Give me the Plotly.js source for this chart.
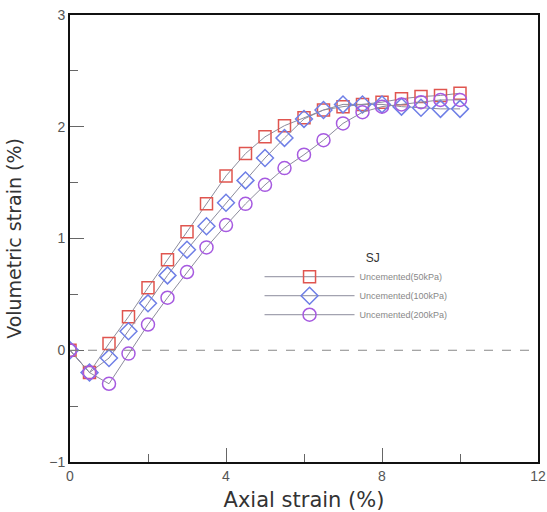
<!DOCTYPE html>
<html><head><meta charset="utf-8">
<script src="https://cdn.plot.ly/plotly-3.0.1.min.js"></script>
<style>body{margin:0;background:#fff}#c{width:547px;height:512px}</style>
</head><body><div id="c"></div>
<script>
var axialStrain = [0,0.5,1,1.5,2,2.5,3,3.5,4,4.5,5,5.5,6,6.5,7,7.5,8,8.5,9,9.5,10];
var vol50  = [0,-0.2,0.06,0.3,0.56,0.81,1.06,1.31,1.56,1.76,1.91,2.01,2.08,2.15,2.18,2.2,2.22,2.25,2.27,2.28,2.3];
var vol100 = [0,-0.2,-0.07,0.17,0.42,0.67,0.9,1.11,1.32,1.52,1.72,1.9,2.07,2.15,2.2,2.2,2.2,2.18,2.17,2.16,2.16];
var vol200 = [0,-0.2,-0.3,-0.03,0.23,0.47,0.7,0.92,1.12,1.31,1.48,1.63,1.75,1.88,2.03,2.13,2.18,2.2,2.22,2.24,2.24];
var seriesNames = ['Uncemented(50kPa)','Uncemented(100kPa)','Uncemented(200kPa)'];
var legendTitle = 'SJ';
var xRange = [0,12];
var yRange = [-1,3];

function tr(y, name, sym, col, size){
  return {x: axialStrain, y: y, name: name, type:'scatter', mode:'lines+markers',
    line:{color:'#8c8c9c', width:1},
    marker:{symbol:sym, size:size, color:col, line:{color:col, width:1.5}}};
}
var data = [
  tr(vol50, seriesNames[0], 'square-open', '#e0554f', 12),
  tr(vol100, seriesNames[1], 'diamond-open', '#6f7fe6', 13),
  tr(vol200, seriesNames[2], 'circle-open', '#a65ae0', 13)
];
var font = 'Liberation Sans, Arial';
var tfont = 'DejaVu Sans';
var zeroFrac = (0 - yRange[0]) / (yRange[1] - yRange[0]);

var layout = {
  width:547, height:512, margin:{l:70, r:9, t:15, b:50},
  paper_bgcolor:'#fff', plot_bgcolor:'#fff', showlegend:true,
  xaxis:{range:xRange, dtick:4, showline:true, linecolor:'#111', linewidth:2, mirror:true,
    ticks:'inside', ticklen:14, tickwidth:1, tickcolor:'#666',
    minor:{dtick:2, ticks:'inside', ticklen:8, tickcolor:'#666'},
    showgrid:false, zeroline:false,
    tickfont:{family:font, size:14, color:'#555'},
    title:{text:'Axial strain (%)', font:{family:tfont, size:21, color:'#333'}}},
  yaxis:{range:yRange, dtick:1, showline:true, linecolor:'#111', linewidth:2, mirror:true,
    ticks:'inside', ticklen:14, tickwidth:1, tickcolor:'#666',
    minor:{dtick:0.5, ticks:'inside', ticklen:8, tickcolor:'#666'},
    showgrid:false, zeroline:false,
    tickfont:{family:font, size:14, color:'#555'},
    title:{text:'Volumetric strain (%)', font:{family:tfont, size:19, color:'#333'}}},
  shapes:[{type:'line', xref:'paper', yref:'paper', x0:0, x1:1, y0:zeroFrac, y1:zeroFrac,
    line:{color:'#888', width:1, dash:'dash'}}],
  legend:{x:0.405, y:0.389, xanchor:'left', yanchor:'middle', bgcolor:'rgba(0,0,0,0)',
    itemwidth:90,
    title:{text:'&nbsp;&nbsp;&nbsp;&nbsp;&nbsp;&nbsp;&nbsp;&nbsp;&nbsp;&nbsp;' + legendTitle, side:'top center', font:{family:font, size:12, color:'#333'}},
    font:{family:font, size:9, color:'#888'}}
};
Plotly.newPlot('c', data, layout, {displayModeBar:false, staticPlot:true});
</script></body></html>
